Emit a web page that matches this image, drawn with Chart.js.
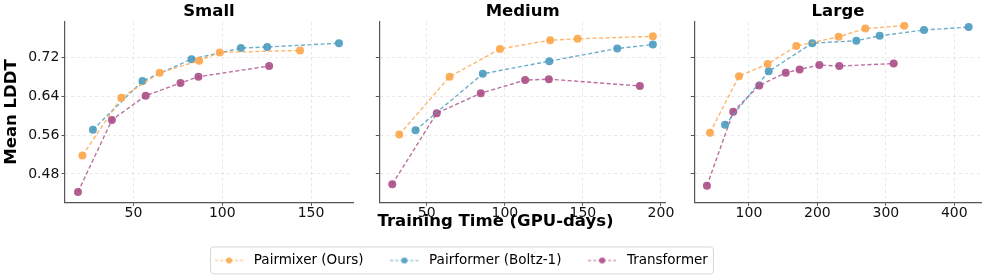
<!DOCTYPE html>
<html lang="en">
<head>
    <meta charset="UTF-8">
    <title>Mean LDDT vs Training Time</title>
    <script src="https://cdn.jsdelivr.net/npm/chart.js"></script>
    <style>
        html, body { margin: 0; padding: 0; background: #fff; overflow: hidden; }
        body { width: 987px; height: 280px; position: relative; }
        canvas { position: absolute; }
    </style>
</head>
<body>
    <canvas id="small" width="360" height="228" style="left:0;top:0"></canvas>
    <canvas id="medium" width="320" height="228" style="left:355px;top:0"></canvas>
    <canvas id="large" width="317" height="228" style="left:670px;top:0"></canvas>
    <canvas id="xlabel" width="983" height="25" style="left:4px;top:212px"></canvas>
    <canvas id="legend" width="923" height="100" style="left:0;top:227px"></canvas>

<script>
// series names and colours
const seriesNames = ['Pairmixer (Ours)', 'Pairformer (Boltz-1)', 'Transformer'];
const seriesColors = ['#fda548', '#4a9bbf', '#ab4c87'];

// shared y axis
const yTicks = [0.48, 0.56, 0.64, 0.72];
const yLimits = [0.4218, 0.7932];

// Small
const smallPairmixerX = [21.3, 43.2, 64.8, 87, 98.6, 143.8];
const smallPairmixerY = [0.518, 0.637, 0.688, 0.713, 0.730, 0.734];
const smallPairformerX = [27.2, 55.1, 82.7, 110.5, 125.3, 165.7];
const smallPairformerY = [0.571, 0.671, 0.716, 0.739, 0.741, 0.749];
const smallTransformerX = [18.8, 37.9, 56.9, 76.5, 86.6, 126.4];
const smallTransformerY = [0.443, 0.591, 0.641, 0.667, 0.680, 0.702];
const smallXTicks = [50, 100, 150];

// Medium
const mediumPairmixerX = [32.4, 64.6, 96.9, 129, 146.6, 194.8];
const mediumPairmixerY = [0.561, 0.680, 0.737, 0.755, 0.758, 0.763];
const mediumPairformerX = [42.8, 85.9, 128.5, 172, 194.8];
const mediumPairformerY = [0.570, 0.686, 0.712, 0.738, 0.746];
const mediumTransformerX = [27.9, 56.4, 84.6, 113, 128.2, 186.5];
const mediumTransformerY = [0.459, 0.605, 0.646, 0.673, 0.675, 0.661];
const mediumXTicks = [50, 100, 150, 200];

// Large
const largePairmixerX = [43, 85.4, 127.3, 169.2, 231, 270, 327];
const largePairmixerY = [0.565, 0.681, 0.706, 0.743, 0.762, 0.779, 0.785];
const largePairformerX = [65, 128.8, 192.5, 256.9, 291, 355.8, 421];
const largePairformerY = [0.581, 0.691, 0.749, 0.754, 0.764, 0.776, 0.782];
const largeTransformerX = [38.6, 77, 115, 153.7, 174, 202.8, 232, 311.5];
const largeTransformerY = [0.456, 0.608, 0.662, 0.688, 0.695, 0.704, 0.702, 0.707];
const largeXTicks = [100, 200, 300, 400];

Chart.defaults.font.family = "'DejaVu Sans', sans-serif";
Chart.defaults.color = '#000';
Chart.defaults.animation = false;

function alpha(hex, a) {
    const n = parseInt(hex.slice(1), 16);
    return 'rgba(' + (n >> 16) + ',' + ((n >> 8) & 255) + ',' + (n & 255) + ',' + a + ')';
}

function makeSeries(xs, ys, i) {
    return {
        label: seriesNames[i],
        data: xs.map((x, k) => ({ x: x, y: ys[k] })),
        showLine: true,
        borderColor: alpha(seriesColors[i], 0.8),
        borderWidth: 1.4,
        borderDash: [4, 2.5],
        backgroundColor: alpha(seriesColors[i], 0.9),
        pointBackgroundColor: alpha(seriesColors[i], 0.9),
        pointBorderWidth: 0,
        pointRadius: 4
    };
}

// gridlines are dashed through border.dash in Chart.js v4
function makeGrid() {
    return { color: 'rgba(0,0,0,0.09)', tickColor: '#555', tickLength: 3.5 };
}
function makeBorder() {
    return { color: '#555', width: 1.2, dash: [3, 3] };
}

function makePanel(id, name, series, xMin, xMax, xTicks, yWidth, padRight, first) {
    new Chart(document.getElementById(id), {
        type: 'scatter',
        data: { datasets: series },
        options: {
            responsive: false,
            layout: { padding: { left: 0, right: padRight, top: 0, bottom: 0 } },
            plugins: {
                legend: { display: false },
                tooltip: { enabled: false }
            },
            scales: {
                // top axis only carries the panel title, centred over the plot area
                top: {
                    type: 'linear', position: 'top', min: xMin, max: xMax,
                    grid: { display: false, drawTicks: false },
                    border: { display: false },
                    ticks: { display: false },
                    afterFit: s => { s.height = 21.65; },
                    title: {
                        display: true, text: name, color: '#000',
                        font: { size: 16.5, weight: 'bold', lineHeight: 1.1 },
                        padding: { top: 3, bottom: 0 }
                    }
                },
                x: {
                    type: 'linear', min: xMin, max: xMax,
                    grid: makeGrid(), border: makeBorder(),
                    afterBuildTicks: s => { s.ticks = xTicks.map(v => ({ value: v })); },
                    afterFit: s => { s.height = 228 - 202.3; },
                    ticks: {
                        font: { size: 14, lineHeight: 1 }, color: '#111', padding: 0.5,
                        maxRotation: 0, callback: v => String(v)
                    }
                },
                y: {
                    type: 'linear', min: yLimits[0], max: yLimits[1],
                    grid: makeGrid(), border: makeBorder(),
                    afterBuildTicks: s => { s.ticks = yTicks.map(v => ({ value: v })); },
                    afterFit: s => { s.width = yWidth; },
                    ticks: {
                        display: first, font: { size: 14 }, color: '#111', padding: 2.2,
                        callback: v => v.toFixed(2)
                    },
                    title: {
                        display: first, text: 'Mean LDDT', color: '#000',
                        font: { size: 16.5, weight: 'bold' },
                        padding: { top: 2.3, bottom: 0 }
                    }
                }
            }
        }
    });
}

makePanel('small', 'Small', [
    makeSeries(smallPairmixerX, smallPairmixerY, 0),
    makeSeries(smallPairformerX, smallPairformerY, 1),
    makeSeries(smallTransformerX, smallTransformerY, 2)
], 11.5, 173.6, smallXTicks, 65, 7, true);

makePanel('medium', 'Medium', [
    makeSeries(mediumPairmixerX, mediumPairmixerY, 0),
    makeSeries(mediumPairformerX, mediumPairformerY, 1),
    makeSeries(mediumTransformerX, mediumTransformerY, 2)
], 19.6, 203.2, mediumXTicks, 24.3, 7.3, false);

makePanel('large', 'Large', [
    makeSeries(largePairmixerX, largePairmixerY, 0),
    makeSeries(largePairformerX, largePairformerY, 1),
    makeSeries(largeTransformerX, largeTransformerY, 2)
], 20.1, 440.1, largeXTicks, 24.3, 5.3, false);

// shared x label
new Chart(document.getElementById('xlabel'), {
    type: 'scatter',
    data: { datasets: [] },
    options: {
        responsive: false,
        scales: { x: { display: false }, y: { display: false } },
        plugins: {
            legend: { display: false },
            tooltip: { enabled: false },
            title: {
                display: true, text: 'Training Time (GPU-days)', color: '#000',
                font: { size: 16.5, weight: 'bold', lineHeight: 1.2 },
                padding: 0
            }
        }
    }
});

// legend icons: dashed line with a dot
function legendIcon(color) {
    const c = document.createElement('canvas');
    c.width = 32; c.height = 10;
    const g = c.getContext('2d');
    g.strokeStyle = alpha(color, 0.8);
    g.lineWidth = 1.2;
    g.setLineDash([3, 2]);
    g.beginPath(); g.moveTo(0, 5); g.lineTo(28, 5); g.stroke();
    g.fillStyle = alpha(color, 0.9);
    g.beginPath(); g.arc(14, 5, 3, 0, Math.PI * 2); g.fill();
    return c;
}

const legendFrame = {
    id: 'legendFrame',
    afterDraw(chart) {
        const boxes = chart.legend.legendHitBoxes;
        if (!boxes || !boxes.length) return;
        const left = Math.min(...boxes.map(b => b.left)) - 5;
        const right = Math.max(...boxes.map(b => b.left + b.width)) + 5;
        const cy = boxes[0].top + boxes[0].height / 2;
        const g = chart.ctx;
        g.save();
        g.strokeStyle = '#d6d6d6';
        g.lineWidth = 1;
        g.beginPath();
        g.roundRect(left + 0.5, cy - 13.5, right - left, 27, 3);
        g.stroke();
        g.restore();
    }
};

new Chart(document.getElementById('legend'), {
    type: 'scatter',
    data: {
        datasets: seriesNames.map((n, i) => ({ label: n, data: [], backgroundColor: seriesColors[i] }))
    },
    options: {
        responsive: false,
        scales: { x: { display: false }, y: { display: false } },
        plugins: {
            tooltip: { enabled: false },
            legend: {
                display: true,
                position: 'top',
                labels: {
                    font: { size: 13.5 },
                    color: '#111',
                    usePointStyle: true,
                    pointStyleWidth: 32,
                    padding: 26.7,
                    generateLabels: chart => chart.data.datasets.map((d, i) => ({
                        text: d.label,
                        pointStyle: legendIcon(seriesColors[i]),
                        fillStyle: seriesColors[i],
                        strokeStyle: seriesColors[i],
                        lineWidth: 0,
                        hidden: false,
                        datasetIndex: i
                    }))
                }
            }
        }
    },
    plugins: [legendFrame]
});
</script>
</body>
</html>
